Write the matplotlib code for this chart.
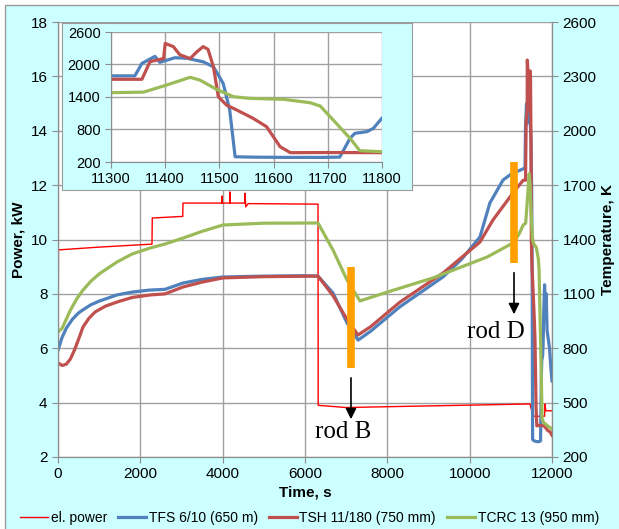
import matplotlib.pyplot as plt
from matplotlib.patches import Rectangle

plt.rcParams["font.family"] = ["Liberation Sans", "DejaVu Sans"]

# ---- data ----
t_power = [0, 10, 30, 1000, 2283, 2290, 3030, 3036, 3980, 3985, 3990, 4170, 4175,
           4180, 4540, 4545, 4560, 4620, 6316, 6320, 7000, 8000, 11466, 11540,
           11820, 11830, 11850, 12000]
p_el = [4.2, 9.6, 9.62, 9.72, 9.83, 10.79, 10.85, 11.34, 11.34, 11.6, 11.34, 11.34,
        11.75, 11.34, 11.34, 11.7, 11.2, 11.32, 11.3, 3.9, 3.82, 3.85, 3.95, 3.5,
        3.5, 3.95, 3.7, 3.7]

t_tfs = [0, 100, 200, 350, 500, 600, 800, 1000, 1430, 1800, 2230, 2600, 3040, 3500,
         4000, 5000, 6000, 6316, 6680, 7020, 7290, 7600, 8300, 9350, 9800, 10250,
         10490, 10810, 11000, 11300, 11344, 11357, 11381, 11390, 11418, 11440,
         11470, 11489, 11507, 11519, 11529, 11560, 11620, 11690, 11722, 11741,
         11750, 11772, 11784, 11800, 11820, 11840, 11860, 11880, 11910, 11940,
         11970, 12000]
T_tfs = [790, 860, 910, 960, 995, 1011, 1040, 1060, 1094, 1110, 1121, 1125, 1160, 1180,
         1193, 1198, 1200, 1198, 1105, 940, 845, 895, 1028, 1193, 1290, 1414,
         1601, 1728, 1760, 1790, 1790, 2020, 2150, 2040, 2125, 2115,
         2050, 1957, 1650, 1160, 297, 290, 285, 285, 290, 637,
         730, 760, 820, 1010, 1150, 1000, 1100, 900, 850, 800,
         700, 620]

t_tsh = [0, 100, 200, 300, 400, 500, 607, 750, 900, 1150, 1433, 1800, 2234, 2600,
         3036, 3500, 4008, 5000, 6316, 6680, 7020, 7287, 7600, 8308, 9352, 10250,
         10567, 11053, 11300, 11357, 11372, 11397, 11400, 11415, 11427, 11446,
         11458, 11470, 11479, 11489, 11498, 11513, 11532, 11562, 11587, 11612,
         11631, 11700, 11800, 11850, 11900, 11950, 12000]
T_tsh = [719, 705, 712, 740, 790, 850, 917, 965, 1000, 1032, 1055, 1080, 1094, 1100,
         1138, 1165, 1188, 1195, 1198, 1090, 960, 873, 920, 1055, 1215, 1386,
         1508, 1657, 1727, 1727, 2052, 2110, 2390, 2330, 2180, 2110,
         2230, 2330, 2280, 1957, 1405, 1252, 1160, 1007, 852, 482,
         372, 375, 372, 360, 345, 340, 320]

t_tcrc = [0, 100, 200, 300, 450, 607, 800, 1000, 1433, 1800, 2234, 2600, 3036, 3500,
          4008, 5000, 6316, 6680, 7020, 7336, 8000, 9109, 10421, 11053, 11200,
          11300, 11360, 11397, 11446, 11464, 11495, 11526, 11556, 11618, 11667,
          11686, 11710, 11741, 11759, 11800, 11900, 12000]
T_tcrc = [890, 910, 960, 1010, 1070, 1121, 1170, 1210, 1276, 1320, 1353, 1375, 1408,
          1445, 1480, 1490, 1491, 1342, 1177, 1061, 1110, 1188, 1303, 1381, 1430,
          1480, 1490, 1603, 1763, 1713, 1540, 1405, 1375, 1357, 1295,
          1234, 975, 637, 409, 390, 370, 355]

# rod marks: time, bar low/high (K), arrow start/end (K), label position (K)
rod_names = ["rod B", "rod D"]
rod_t = [7117, 11077]
rod_bar = [(691, 1248), (1270, 1828)]
rod_arrow = [(652, 393), (1232, 972)]
rod_label_t = [6920, 10640]
rod_label_T = [338, 890]

C_POWER = "#FF0000"
C_TFS = "#4F81BD"
C_TSH = "#C0504D"
C_TCRC = "#9BBB59"
C_ROD = "#FFA000"
C_GRID = "#A0A0A0"
C_BG = "#CCFFFF"

W, H = 619, 529
fig = plt.figure(figsize=(W / 100, H / 100), dpi=100, facecolor="white")
fig.patches.append(Rectangle((5 / W, -0.01), 1.0, (H - 5) / H + 0.01,
                             transform=fig.transFigure, facecolor=C_BG,
                             edgecolor="#9a9a9a", lw=1.0, zorder=-10))

ax = fig.add_axes([58 / W, 1 - 457 / H, (552 - 58) / W, (457 - 22) / H])
ax2 = ax.twinx()

ax.set_xlim(0, 12000)
ax.set_ylim(2, 18)
ax.set_xticks(range(0, 12001, 2000))
ax.set_yticks(range(2, 19, 2))
ax2.set_ylim(200, 2600)
ax2.set_yticks(range(200, 2601, 300))
ax.grid(True, color=C_GRID, lw=1.0)
ax.set_axisbelow(True)

for a in (ax, ax2):
    for s in a.spines.values():
        s.set_color("#8c8c8c")
    a.tick_params(colors="#8c8c8c", labelcolor="black", labelsize=11, length=4)
ax.spines["top"].set_visible(False)
ax2.spines["top"].set_visible(False)

l0, = ax.plot(t_power, p_el, color=C_POWER, lw=1.0, label="el. power")
l1, = ax2.plot(t_tfs, T_tfs, color=C_TFS, lw=2.3, label="TFS 6/10 (650 m)")
l2, = ax2.plot(t_tsh, T_tsh, color=C_TSH, lw=2.3, label="TSH 11/180 (750 mm)")
l3, = ax2.plot(t_tcrc, T_tcrc, color=C_TCRC, lw=2.3, label="TCRC 13 (950 mm)")

for name, t, bar, arr, lt, lT in zip(rod_names, rod_t, rod_bar, rod_arrow,
                                     rod_label_t, rod_label_T):
    ax2.plot([t, t], bar, color=C_ROD, lw=5.5, solid_capstyle="butt", zorder=5)
    ax2.annotate("", xy=(t, arr[1]), xytext=(t, arr[0]),
                 arrowprops=dict(arrowstyle="-|>", color="black", lw=1.2,
                                 mutation_scale=16), zorder=6)
    ax2.text(lt, lT, name, ha="center", va="center", fontsize=18,
             family=["Liberation Serif", "DejaVu Serif"], zorder=6)

ax.set_xlabel("Time, s", fontsize=11, fontweight="bold", labelpad=3)
ax.set_ylabel("Power, kW", fontsize=11, fontweight="bold", labelpad=4)
ax2.set_ylabel("Temperature, K", fontsize=11, fontweight="bold", labelpad=3)

# inset panel
panel = fig.add_axes([62 / W, 1 - 190 / H, (412 - 62) / W, (190 - 23) / H])
panel.set_facecolor(C_BG)
panel.set_xticks([])
panel.set_yticks([])
for s in panel.spines.values():
    s.set_color("#9a9a9a")
panel.set_zorder(5)

ins = fig.add_axes([111 / W, 1 - 162 / H, (382 - 111) / W, (162 - 32) / H])
ins.set_zorder(6)
ins.plot(t_tfs, T_tfs, color=C_TFS, lw=2.3)
ins.plot(t_tsh, T_tsh, color=C_TSH, lw=2.3)
ins.plot(t_tcrc, T_tcrc, color=C_TCRC, lw=2.3)
ins.set_xlim(11300, 11800)
ins.set_ylim(200, 2600)
ins.set_xticks(range(11300, 11801, 100))
ins.set_yticks(range(200, 2601, 600))
ins.grid(True, color=C_GRID, lw=1.0)
ins.set_axisbelow(True)
for s in ins.spines.values():
    s.set_color("#8c8c8c")
ins.spines["top"].set_visible(False)
ins.spines["right"].set_visible(False)
ins.tick_params(colors="#8c8c8c", labelcolor="black", labelsize=10.5, length=4)

fig.legend(handles=[l0, l1, l2, l3], loc="center", ncol=4, frameon=False,
           bbox_to_anchor=(0.5, 1 - 518 / H), fontsize=10, handlelength=2.0,
           handletextpad=0.2, columnspacing=0.8)

fig.savefig("out.png", dpi=100, facecolor=fig.get_facecolor())
